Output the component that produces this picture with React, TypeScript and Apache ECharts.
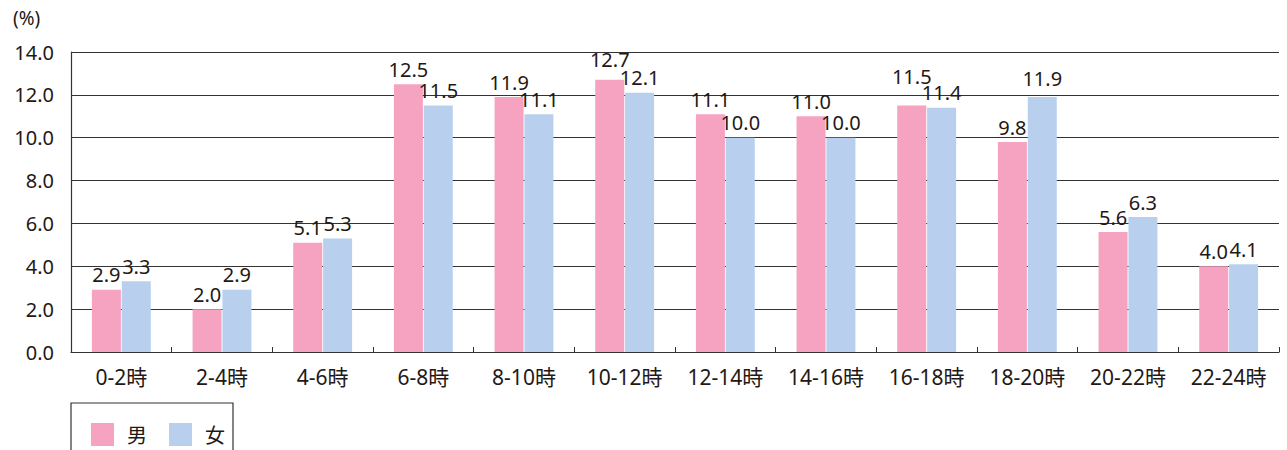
import React, { useEffect, useRef } from "react";
import * as echarts from "echarts";

const categories = ["0-2時", "2-4時", "4-6時", "6-8時", "8-10時", "10-12時", "12-14時", "14-16時", "16-18時", "18-20時", "20-22時", "22-24時"];
const maleValues = [2.9, 2.0, 5.1, 12.5, 11.9, 12.7, 11.1, 11.0, 11.5, 9.8, 5.6, 4.0];
const femaleValues = [3.3, 2.9, 5.3, 11.5, 11.1, 12.1, 10.0, 10.0, 11.4, 11.9, 6.3, 4.1];
const seriesNames = ["男", "女"];
// labels lifted in the reference to avoid collisions (index -> extra lift in px)
const maleLabelLift: Record<number, number> = { 5: 5, 8: 14 };
const femaleLabelLift: Record<number, number> = { 9: 4 };

const FONT = "'Noto Sans', 'Noto Sans CJK JP', sans-serif";
const TEXT = "#231815";

function withLift(values: number[], lift: Record<number, number>) {
  return values.map((v, i) =>
    lift[i] ? { value: v, label: { offset: [0, -lift[i]] } } : v
  );
}

export default function App() {
  const ref = useRef<HTMLDivElement>(null);
  useEffect(() => {
    document.body.style.margin = "0";
    const chart = echarts.init(ref.current!, undefined, { renderer: "svg" });
    const label = {
      show: true,
      position: "top" as const,
      distance: 5,
      color: TEXT,
      fontSize: 20,
      fontFamily: FONT,
      formatter: (p: any) => Number(p.value).toFixed(1),
    };
    chart.setOption({
      animation: false,
      textStyle: { fontFamily: FONT },
      grid: { left: 71, right: 8, top: 52, bottom: 98 },
      legend: {
        left: 86,
        top: 418,
        itemWidth: 23,
        itemHeight: 23,
        itemGap: 22,
        icon: "rect",
        data: seriesNames,
        textStyle: { fontSize: 20, color: TEXT, fontFamily: "'Noto Sans CJK JP', sans-serif", padding: [0, 0, 0, 8] },
      },
      graphic: [
        {
          type: "rect",
          shape: { x: 71, y: 403, width: 162, height: 60 },
          style: { fill: "none", stroke: "#333", lineWidth: 1.2 },
        },
        {
          type: "text",
          x: 13,
          y: 8,
          style: { text: "(%)", fontSize: 19, fill: TEXT, fontFamily: FONT },
        },
      ],
      xAxis: {
        type: "category",
        data: categories,
        axisLine: { lineStyle: { color: "#333", width: 1.2 } },
        axisTick: { show: true, inside: true, length: 5, lineStyle: { color: "#333" } },
        axisLabel: { fontSize: 21, color: TEXT, fontFamily: FONT, margin: 14 },
      },
      yAxis: {
        type: "value",
        min: 0,
        max: 14,
        interval: 2,
        axisLine: { show: true, lineStyle: { color: "#333", width: 1.2 } },
        axisTick: { show: true, inside: true, length: 6, lineStyle: { color: "#333" } },
        splitLine: { show: true, lineStyle: { color: "#333", width: 1.2 } },
        axisLabel: {
          fontSize: 20,
          color: TEXT,
          fontFamily: FONT,
          margin: 17,
          formatter: (v: number) => v.toFixed(1),
        },
      },
      series: [
        {
          name: seriesNames[0],
          type: "bar",
          data: withLift(maleValues, maleLabelLift),
          barWidth: 29,
          barGap: "3%",
          itemStyle: { color: "#F5A3C0" },
          label,
        },
        {
          name: seriesNames[1],
          type: "bar",
          data: withLift(femaleValues, femaleLabelLift),
          barWidth: 29,
          itemStyle: { color: "#B8D0EE" },
          label,
        },
      ],
    });
    return () => chart.dispose();
  }, []);
  return <div ref={ref} style={{ width: 1287, height: 450 }} />;
}
